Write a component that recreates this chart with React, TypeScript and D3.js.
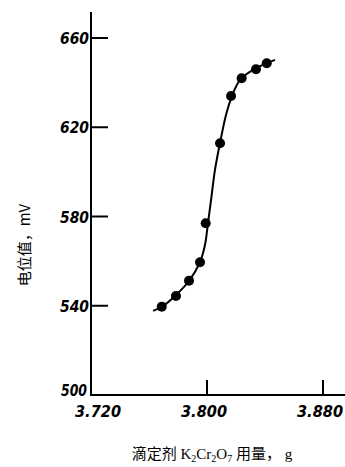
import React from "react";
import * as d3 from "d3";

const yTicks = [500, 540, 580, 620, 660];
const xTicks = [3.72, 3.8, 3.88];
const xTickLabels = ["3.720", "3.800", "3.880"];
const pointX = [3.7688, 3.7786, 3.7876, 3.7952, 3.7991, 3.809, 3.8166, 3.8239, 3.8338, 3.8412];
const pointY = [539.6, 544.4, 551.2, 559.5, 577, 612.8, 634, 642, 646, 648.7];
const curveX = [3.7628, 3.7697, 3.7779, 3.7876, 3.7952, 3.7986, 3.8007, 3.8028, 3.8055, 3.809, 3.8131, 3.8172, 3.8228, 3.8317, 3.8414, 3.8469];
const curveY = [537.7, 539.9, 544.4, 551.1, 559.6, 567.2, 577.1, 587.4, 600.9, 613, 625.5, 634, 641.2, 645.7, 648.8, 650.2];

export default function App() {
  const W = 345, H = 467;
  const x = d3.scaleLinear().domain([3.72, 3.88]).range([91, 323]);
  const y = d3.scaleLinear().domain([500, 660]).range([395, 38]);
  const line = d3.line<number>().x((_, i) => x(curveX[i])).y((_, i) => y(curveY[i])).curve(d3.curveCatmullRom.alpha(0.5));
  const tickFont = "'DejaVu Sans Condensed', 'DejaVu Sans', sans-serif";
  return (
    <svg width={W} height={H} style={{ position: "absolute", left: 0, top: 0, background: "#fff" }}>
      {/* axes */}
      <line x1={91} y1={12} x2={91} y2={396} stroke="#000" strokeWidth={2} />
      <line x1={90} y1={395} x2={345} y2={395} stroke="#000" strokeWidth={2} />
      {yTicks.map((t) => (
        <g key={t}>
          {t !== 500 && <line x1={91} x2={108} y1={y(t)} y2={y(t)} stroke="#000" strokeWidth={2} />}
          <text x={t === 500 ? 87 : 89} y={t === 500 ? y(t) + 1 : y(t) + 6} textAnchor="end" fontFamily={tickFont} fontStyle="italic" fontWeight="bold" fontSize={15} fill="#000" textLength={t === 500 ? 26 : 29} lengthAdjust="spacingAndGlyphs">{t}</text>
        </g>
      ))}
      {xTicks.map((t, i) => (
        <g key={t}>
          {i > 0 && <line x1={x(t)} x2={x(t)} y1={380} y2={395} stroke="#000" strokeWidth={2} />}
          <text x={x(t) + (i === 0 ? 7 : -3)} y={417} textAnchor="middle" fontFamily={tickFont} fontStyle="italic" fontWeight="bold" fontSize={15} fill="#000" textLength={46} lengthAdjust="spacingAndGlyphs">{xTickLabels[i]}</text>
        </g>
      ))}
      {/* curve */}
      <path d={line(curveX) || ""} fill="none" stroke="#000" strokeWidth={2} />
      {pointX.map((px, i) => (
        <circle key={i} cx={x(px)} cy={y(pointY[i])} r={5} fill="#000" />
      ))}
      {/* axis titles */}
      <text transform="translate(30,245) rotate(-90)" textAnchor="middle" fontFamily="'Noto Sans CJK SC', serif" fontSize={15} fill="#000">电位值，mV</text>
      <text x={212} y={459} textAnchor="middle" fontFamily="'Liberation Serif', 'Noto Sans CJK SC', serif" fontSize={15} fill="#000">
        滴定剂 K<tspan fontSize={10} dy={3}>2</tspan><tspan dy={-3}>Cr</tspan><tspan fontSize={10} dy={3}>2</tspan><tspan dy={-3}>O</tspan><tspan fontSize={10} dy={3}>7</tspan><tspan dy={-3}> 用量， g</tspan>
      </text>
    </svg>
  );
}
